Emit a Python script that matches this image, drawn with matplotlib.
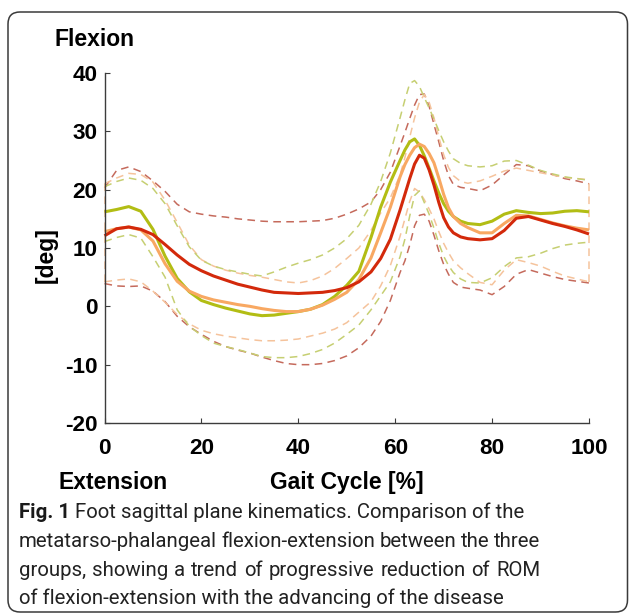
import matplotlib
matplotlib.use("Agg")
import matplotlib.pyplot as plt
from matplotlib.patches import FancyBboxPatch
from matplotlib.transforms import IdentityTransform

# ---------------- data ----------------
gait = [0, 2.5, 5, 7.5, 10, 12.5, 15, 17.5, 20, 22.5, 25, 27.5, 30, 32.5, 35, 37.5,
        40, 42.5, 45, 47.5, 50, 52.5, 55, 57, 59, 61, 62, 63, 64, 65, 66, 67, 68,
        69, 70, 71, 72, 73.5, 75, 77.5, 80, 82.5, 85, 87.5, 90, 92.5, 95, 97.5, 100]

green_mean = [16.2, 16.6, 17.1, 16.3, 13.2, 8.6, 4.8, 2.5, 1.0, 0.3, -0.3, -0.8, -1.3, -1.6,
              -1.5, -1.2, -0.9, -0.5, 0.3, 1.7, 3.6, 6.0, 11.8, 17.0, 21.3, 25.0, 26.8, 28.2,
              28.7, 27.6, 25.8, 23.7, 21.5, 19.4, 17.6, 16.3, 15.4, 14.6, 14.2, 14.0, 14.6,
              15.8, 16.4, 16.1, 15.9, 16.0, 16.3, 16.4, 16.2]
green_upper = [20.5, 21.4, 22.0, 21.6, 20.2, 17.6, 13.8, 10.2, 7.9, 6.9, 6.3, 5.9, 5.5, 5.2,
               5.9, 6.7, 7.4, 8.0, 8.8, 10.0, 11.6, 13.9, 17.5, 21.4, 26.3, 32.3, 35.4, 38.2,
               38.7, 37.7, 35.8, 34.0, 32.1, 30.1, 28.2, 26.6, 25.3, 24.5, 24.1, 23.9, 24.1,
               24.9, 25.0, 24.2, 23.3, 22.7, 22.2, 21.9, 21.6]
green_lower = [11.1, 11.8, 12.3, 11.7, 8.5, 5.0, -0.6, -3.4, -5.0, -6.3, -6.9, -7.4, -8.0,
               -8.6, -8.8, -8.8, -8.6, -8.1, -7.4, -6.3, -4.8, -3.2, -0.6, 1.8, 4.2, 8.5,
               11.5, 15.5, 19.0, 19.8, 17.8, 15.8, 13.4, 10.8, 8.6, 7.0, 5.8, 4.7, 4.1, 4.0,
               4.9, 6.8, 8.3, 8.5, 9.1, 9.9, 10.5, 10.8, 11.0]

orange_mean = [12.8, 13.3, 13.6, 13.1, 11.2, 7.3, 4.3, 2.6, 1.7, 1.1, 0.7, 0.3, 0.0, -0.4,
               -0.7, -0.9, -0.9, -0.5, 0.2, 1.2, 2.4, 4.6, 8.3, 12.6, 17.0, 22.2, 24.3, 25.9,
               27.2, 27.8, 27.4, 26.2, 24.6, 22.0, 19.2, 16.9, 15.4, 14.2, 13.5, 12.6, 12.6,
               14.2, 15.6, 15.5, 14.9, 14.3, 13.8, 13.4, 13.1]
orange_upper = [21.0, 22.0, 22.8, 22.6, 21.3, 18.2, 14.4, 10.5, 8.0, 6.9, 6.2, 5.7, 5.3, 5.0,
                4.6, 4.2, 4.0, 4.4, 5.2, 6.5, 8.2, 10.0, 13.0, 16.0, 18.6, 22.5, 25.5, 29.0,
                32.3, 35.0, 36.3, 35.0, 32.3, 29.0, 26.0, 23.8, 22.4, 21.4, 21.1, 21.5, 22.3,
                23.2, 23.7, 23.3, 22.9, 22.5, 22.1, 21.9, 21.7]
orange_lower = [4.2, 4.5, 4.7, 4.2, 2.6, 0.7, -1.4, -3.0, -4.1, -4.7, -5.1, -5.4, -5.7, -5.9,
                -5.9, -5.8, -5.6, -5.1, -4.6, -3.9, -2.8, -1.0, 0.8, 3.5, 7.0, 12.0, 15.0,
                18.0, 20.2, 19.6, 18.3, 16.7, 15.0, 12.8, 10.8, 9.2, 7.8, 6.6, 5.6, 4.1, 3.7,
                6.2, 8.0, 7.5, 6.9, 6.0, 5.2, 4.7, 4.2]

red_mean = [12.1, 13.3, 13.6, 13.2, 12.3, 10.6, 8.8, 7.2, 6.1, 5.2, 4.5, 3.8, 3.3, 2.8, 2.4,
            2.3, 2.2, 2.3, 2.4, 2.7, 3.2, 4.2, 5.9, 8.2, 11.5, 16.5, 19.2, 21.9, 24.4, 25.9,
            25.4, 23.4, 20.8, 17.8, 15.2, 13.6, 12.6, 11.9, 11.6, 11.4, 11.6, 13.0, 15.1,
            15.4, 14.8, 14.2, 13.7, 13.1, 12.4]
red_upper = [20.3, 23.3, 23.9, 23.1, 21.5, 19.7, 17.5, 16.2, 15.8, 15.5, 15.3, 15.0, 14.8,
             14.6, 14.5, 14.5, 14.5, 14.6, 14.7, 15.1, 15.8, 16.7, 17.9, 20.0, 23.0, 27.5,
             29.8, 32.2, 34.5, 36.3, 36.4, 34.3, 31.2, 28.2, 25.0, 22.4, 20.9, 20.4, 20.2,
             19.8, 20.8, 22.6, 24.3, 24.1, 23.2, 22.6, 21.9, 21.5, 21.0]
red_lower = [3.9, 3.5, 3.4, 3.5, 2.6, 0.8, -1.7, -3.5, -4.8, -6.0, -6.9, -7.5, -8.0, -8.7,
             -9.3, -9.8, -10.0, -10.0, -9.8, -9.3, -8.5, -7.1, -5.1, -2.6, 1.0, 5.8, 7.8,
             10.5, 13.8, 15.6, 15.8, 14.6, 12.2, 9.5, 7.2, 5.5, 4.1, 3.3, 3.1, 2.8, 2.0, 3.4,
             5.5, 6.3, 5.7, 5.1, 4.6, 4.3, 4.0]

x_ticks = [0, 20, 40, 60, 80, 100]
y_ticks = [-20, -10, 0, 10, 20, 30, 40]

caption_lines = [
    ("Fig. 1", " Foot sagittal plane kinematics. Comparison of the"),
    ("", "metatarso-phalangeal flexion-extension between the three"),
    ("", "groups, showing a trend of progressive reduction of ROM"),
    ("", "of flexion-extension with the advancing of the disease"),
]

# ---------------- styling ----------------
C_GREEN = "#b2bd14"
C_GREEN_D = "#c6cf72"
C_ORANGE = "#f8a862"
C_ORANGE_D = "#f5c39c"
C_RED = "#d3290b"
C_RED_D = "#c56a5c"

plt.rcParams["font.family"] = ["Liberation Sans", "DejaVu Sans"]
plt.rcParams["axes.unicode_minus"] = False

W, H = 629, 613
fig = plt.figure(figsize=(W / 100, H / 100), dpi=100)
fig.patch.set_facecolor("white")

# rounded frame around the whole figure panel
frame = FancyBboxPatch((8, 1), 619.5, 600, boxstyle="round,pad=0,rounding_size=12",
                       transform=IdentityTransform(), fill=False, edgecolor="#3a3a3a",
                       linewidth=1.1, zorder=0)
fig.patches.append(frame)

ax = fig.add_axes([104.5 / W, 1 - 423 / H, 484.5 / W, 350 / H])

dash = (0, (5, 3.5))
lw_d = 1.1
for up, lo, col in [(red_upper, red_lower, C_RED_D),
                    (orange_upper, orange_lower, C_ORANGE_D),
                    (green_upper, green_lower, C_GREEN_D)]:
    ax.plot(gait, up, color=col, lw=lw_d, linestyle=dash, clip_on=False)
    ax.plot(gait, lo, color=col, lw=lw_d, linestyle=dash, clip_on=False)

# closing edges of the orange band at the start and end of the cycle
ax.plot([gait[0], gait[0]], [orange_lower[0], orange_upper[0]], color=C_ORANGE_D,
        lw=lw_d, linestyle=dash, clip_on=False)
ax.plot([gait[-1], gait[-1]], [orange_lower[-1], orange_upper[-1]], color=C_ORANGE_D,
        lw=lw_d, linestyle=dash, clip_on=False)

lw_m = 2.2
ax.plot(gait, green_mean, color=C_GREEN, lw=lw_m, clip_on=False, solid_capstyle="butt")
ax.plot(gait, orange_mean, color=C_ORANGE, lw=lw_m, clip_on=False, solid_capstyle="butt")
ax.plot(gait, red_mean, color=C_RED, lw=lw_m, clip_on=False, solid_capstyle="butt")

ax.set_xlim(0, 100)
ax.set_ylim(-20, 40)
ax.set_xticks(x_ticks)
ax.set_yticks(y_ticks)
ax.spines["top"].set_visible(False)
ax.spines["right"].set_visible(False)
for s in ("left", "bottom"):
    ax.spines[s].set_color("#3c3c3c")
    ax.spines[s].set_linewidth(1.0)
ax.tick_params(axis="both", direction="in", length=3.6, width=0.8, color="#3c3c3c",
               labelsize=16.2)
ax.tick_params(axis="x", pad=11)
ax.tick_params(axis="y", pad=5)
for lab in ax.get_xticklabels() + ax.get_yticklabels():
    lab.set_fontweight("bold")
ax.set_facecolor("none")

# axis texts
fig.text(55 / W, 1 - 46 / H, "Flexion", fontsize=16.5, fontweight="bold", va="baseline")
fig.text(58 / W, 1 - 489 / H, "Extension", fontsize=16.5, fontweight="bold", va="baseline")
fig.text(346.5 / W, 1 - 489 / H, "Gait Cycle [%]", fontsize=16.5, fontweight="bold",
         va="baseline", ha="center")
fig.text(46 / W, 1 - 255 / H, "[deg]", fontsize=16.5, fontweight="bold", rotation=90,
         ha="center", va="center")

# caption
renderer = fig.canvas.get_renderer()
cap_font = ["Roboto", "DejaVu Sans"]


def width_of(s, fs, weight="normal"):
    t = fig.text(0, 0, s, fontsize=fs, fontweight=weight, family=cap_font)
    w = t.get_window_extent(renderer).width
    t.remove()
    return w


base = 14.0
target_last = 488.0
fs = base * target_last / width_of(caption_lines[3][1], base)

x0 = 19.0
baselines = [518, 547, 576, 604]
right_edges = [None, 540.0, 540.0, None]
for (bold, rest), yb, xr in zip(caption_lines, baselines, right_edges):
    ypos = 1 - yb / H
    if xr is None:
        x = x0
        if bold:
            fig.text(x / W, ypos, bold, fontsize=fs, fontweight="bold", family=cap_font,
                     va="baseline", color="#1a1a1a")
            x += width_of(bold, fs, "bold")
        fig.text(x / W, ypos, rest, fontsize=fs, family=cap_font, va="baseline",
                 color="#222222")
    else:
        words = rest.split(" ")
        widths = [width_of(wd, fs) for wd in words]
        gap = (xr - x0 - sum(widths)) / (len(words) - 1)
        x = x0
        for wd, wdt in zip(words, widths):
            fig.text(x / W, ypos, wd, fontsize=fs, family=cap_font, va="baseline",
                     color="#222222")
            x += wdt + gap

fig.savefig("out.png", dpi=100, facecolor="white")
